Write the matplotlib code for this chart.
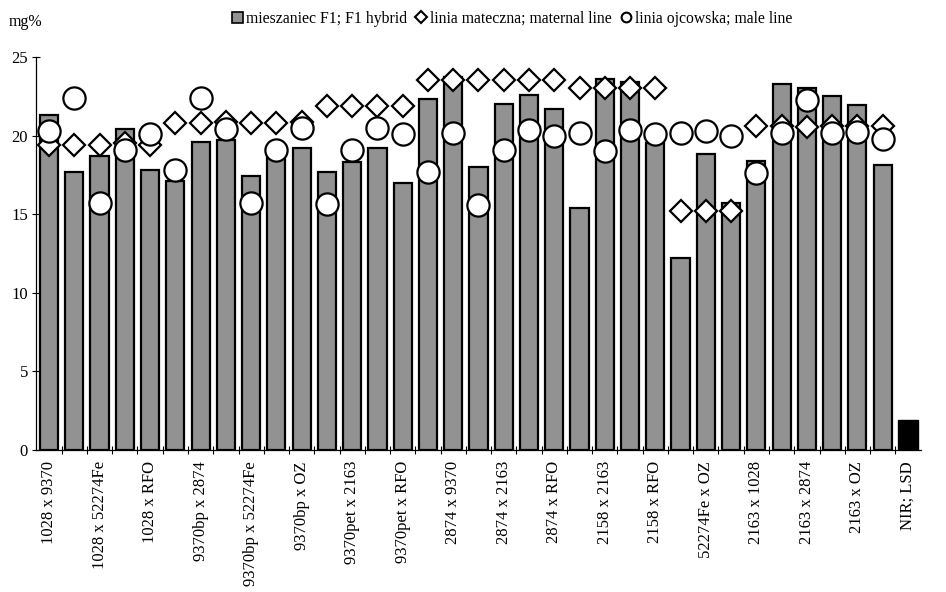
import numpy as np
import matplotlib.pyplot as plt
from matplotlib.patches import Patch
from matplotlib.lines import Line2D

plt.rcParams['font.family'] = ['Liberation Serif', 'DejaVu Serif']

# hybrid F1 bars (34 crosses) + NIR/LSD bar
hybrid = [21.3, 17.7, 18.7, 20.4, 17.8, 17.1, 19.6, 19.7, 17.4, 18.7,
          19.2, 17.7, 18.3, 19.2, 17.0, 22.3, 23.7, 18.0, 22.0, 22.6,
          21.7, 15.4, 23.6, 23.4, 19.5, 12.2, 18.8, 15.7, 18.4, 23.3,
          23.0, 22.5, 21.95, 18.1]
lsd = 1.9

maternal = [19.4, 19.4, 19.4, 19.5, 19.4, 20.8, 20.8, 20.85, 20.8, 20.8,
            20.85, 21.9, 21.9, 21.9, 21.9, 23.55, 23.55, 23.55, 23.55, 23.55,
            23.55, 23.0, 23.0, 23.0, 23.0, 15.2, 15.2, 15.2, 20.6, 20.6,
            20.55, 20.6, 20.6, 20.6]

male = [20.3, 22.4, 15.7, 19.1, 20.1, 17.8, 22.4, 20.4, 15.7, 19.1,
        20.5, 15.65, 19.1, 20.5, 20.1, 17.7, 20.15, 15.6, 19.05, 20.35,
        20.0, 20.15, 19.0, 20.35, 20.1, 20.15, 20.3, 20.0, 17.65, 20.15,
        22.25, 20.15, 20.25, 19.8]

tick_labels = ["1028 x 9370", "1028 x 52274Fe", "1028 x RFO", "9370bp x 2874",
               "9370bp x 52274Fe", "9370bp x OZ", "9370pet x 2163", "9370pet x RFO",
               "2874 x 9370", "2874 x 2163", "2874 x RFO", "2158 x 2163",
               "2158 x RFO", "52274Fe x OZ", "2163 x 1028", "2163 x 2874",
               "2163 x OZ", "NIR; LSD"]

n = len(hybrid)
x = np.arange(n)

fig = plt.figure(figsize=(9.46, 5.92), dpi=100)
ax = fig.add_axes([0.0385, 0.2399, 0.9346, 0.6639])

ax.bar(x, hybrid, width=0.72, color='#929292', edgecolor='black', linewidth=1.6, zorder=2)
ax.bar(n, lsd, width=0.82, color='black', edgecolor='black', linewidth=1.0, zorder=2)

ax.plot(x, maternal, linestyle='none', marker='D', markersize=11,
        markerfacecolor='white', markeredgecolor='black', markeredgewidth=1.6, zorder=3)
ax.plot(x, male, linestyle='none', marker='o', markersize=16,
        markerfacecolor='white', markeredgecolor='black', markeredgewidth=1.6, zorder=4)

ax.set_xlim(-0.5, n + 0.5)
ax.set_ylim(0, 25)
ax.set_yticks([0, 5, 10, 15, 20, 25])
ax.tick_params(axis='y', direction='inout', length=6, width=0.8, labelsize=12, pad=3)

ax.set_xticks(np.arange(0, n + 1, 2))
ax.set_xticklabels(tick_labels, rotation=90, fontsize=12)
ax.set_xticks(np.arange(0.5, n + 0.5, 1), minor=True)
ax.tick_params(axis='x', which='major', length=0, pad=8)
ax.tick_params(axis='x', which='minor', direction='inout', length=6, width=0.8)

for side in ['top', 'right']:
    ax.spines[side].set_visible(False)
for side in ['left', 'bottom']:
    ax.spines[side].set_linewidth(0.9)

fig.text(0.009, 0.963, "mg%", fontsize=11.5, va='center', ha='left')

handles = [
    Patch(facecolor='#929292', edgecolor='black', linewidth=1.2),
    Line2D([], [], linestyle='none', marker='D', markersize=6,
           markerfacecolor='white', markeredgecolor='black', markeredgewidth=1.5),
    Line2D([], [], linestyle='none', marker='o', markersize=7,
           markerfacecolor='white', markeredgecolor='black', markeredgewidth=1.5),
]
labels = ["mieszaniec F1; F1 hybrid", "linia mateczna; maternal line",
          "linia ojcowska; male line"]
fig.legend(handles, labels, loc='center left', bbox_to_anchor=(0.237, 0.968),
           ncol=3, frameon=False, fontsize=11.3, handlelength=0.7, handleheight=0.7,
           handletextpad=0.2, columnspacing=0.55, borderpad=0)

fig.savefig("out.png", dpi=100)
